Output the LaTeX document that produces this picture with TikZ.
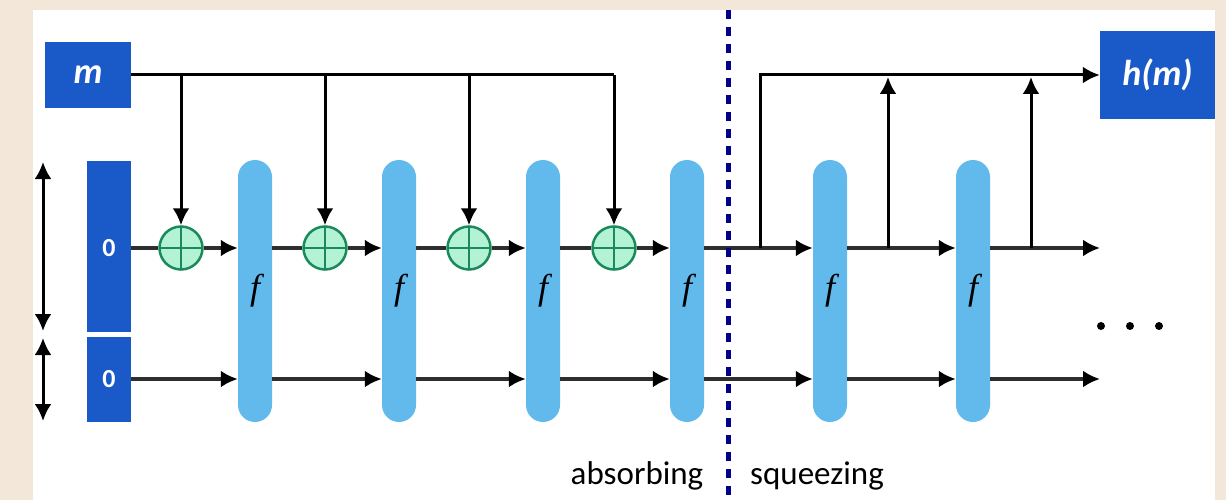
\documentclass[tikz,border=0pt]{standalone}
\usepackage{fontspec}
\setmainfont{Carlito}
\newfontfamily\ffont{Liberation Serif}
\usetikzlibrary{arrows.meta,calc}
\definecolor{bg}{HTML}{F3E7D9}
\definecolor{boxblue}{HTML}{1A5AC8}
\definecolor{pillblue}{HTML}{62B9EC}
\definecolor{xorfill}{HTML}{B4F2D6}
\definecolor{xordraw}{HTML}{1B8A5A}
\definecolor{wiregray}{HTML}{2E2E2E}
\definecolor{navy}{HTML}{000088}
\tikzset{
  blk/.style={fill=boxblue, inner sep=0pt, text=white, font=\bfseries\itshape\fontsize{36}{36}\selectfont},
  zero/.style={fill=boxblue, inner sep=0pt, text=white, font=\bfseries\fontsize{26}{26}\selectfont},
  pillf/.style={fill=pillblue, rounded corners=17pt, minimum width=34pt, minimum height=262pt, inner sep=0pt, font=\ffont\itshape\fontsize{36}{36}\selectfont},
  xorc/.style={circle, fill=xorfill, draw=xordraw, line width=2.5pt, minimum size=43pt, inner sep=0pt,
    path picture={\draw[xordraw,line width=2.5pt] (path picture bounding box.north) -- (path picture bounding box.south) (path picture bounding box.west) -- (path picture bounding box.east);}},
  wire/.style={draw=wiregray, line width=4.5pt},
  vline/.style={draw=black, line width=3pt},
  arr/.style={-{Latex[length=17pt,width=17pt,color=black]}},
  darr/.style={{Latex[length=17pt,width=17pt]}-{Latex[length=17pt,width=17pt]}},
  lbl/.style={font=\fontsize{33}{33}\selectfont, text=black, inner sep=0pt}
}
\begin{document}
\begin{tikzpicture}[x=1pt,y=-1pt]
\fill[bg] (0,0) rectangle (1226,500);
\fill[white] (33,10) rectangle (1215,500);
\useasboundingbox (0,0) rectangle (1226,500);

% boxes
\node[blk, minimum width=86pt, minimum height=66pt] (m) at (88,75) {m};
\node[blk, minimum width=115pt, minimum height=88pt] (hm) at (1157.5,75) {h(m)};
\node[zero, minimum width=44pt, minimum height=171pt] (s1) at (109,246.5) {};
\node[zero] (z1) at (109,248) {0};
\node[zero, minimum width=44pt, minimum height=85pt] (s2) at (109,379.5) {0};

% pills
\foreach \i/\x in {1/255,2/399,3/543,4/687,5/830,6/973}
  \node[pillf] (p\i) at (\x,291) {f};
% xor circles
\foreach \i/\x in {1/181,2/325,3/469,4/614}
  \node[xorc] (c\i) at (\x,248) {};

\coordinate (lo) at (0,379);
\coordinate (up) at (0,248);

% top message line
\coordinate (t4) at (c4 |- m.east);
\draw[vline] (m.east) -- (t4);
\foreach \i in {1,2,3,4}
  \draw[vline,arr] (c\i |- m.east) -- (c\i.north);

% upper wire (absorbing)
\draw[wire] (s1.east |- up) -- (c1.west);
\foreach \i/\j in {1/1,2/2,3/3,4/4}
  \draw[wire,arr] (c\i.east) -- (up -| p\j.west);
\foreach \i/\j in {1/2,2/3,3/4}
  \draw[wire] (p\i.east |- up) -- (c\j.west);
\draw[wire,arr] (p4.east |- up) -- (up -| p5.west);
\draw[wire,arr] (p5.east |- up) -- (up -| p6.west);
\coordinate (eu) at (1100,248);
\draw[wire,arr] (p6.east |- up) -- (eu);

% lower wire
\draw[wire,arr] (s2.east |- lo) -- (lo -| p1.west);
\foreach \i/\j in {1/2,2/3,3/4,4/5,5/6}
  \draw[wire,arr] (p\i.east |- lo) -- (lo -| p\j.west);
\coordinate (el) at (1100,379);
\draw[wire,arr] (p6.east |- lo) -- (el);

% squeezing outputs
\coordinate (j0) at (760,248);
\coordinate (k0) at (760,75);
\draw[vline,arr] (j0) -- (k0) -- (hm.west);
\coordinate (j1) at (888,248);
\coordinate (k1) at (888,77);
\draw[vline,arr] (j1) -- (k1);
\coordinate (j2) at (1031,248);
\coordinate (k2) at (1031,77);
\draw[vline,arr] (j2) -- (k2);

% divider
\coordinate (dt) at (728,10);
\coordinate (db) at (728,500);
\draw[navy, line width=5pt, dash pattern=on 9pt off 8pt] (dt) -- (db);

% size arrows
\coordinate (a1) at (43,162);
\coordinate (a2) at (43,331);
\coordinate (a3) at (43,338);
\coordinate (a4) at (43,421);
\draw[vline,darr] (a1) -- (a2);
\draw[vline,darr] (a3) -- (a4);

% dots
\foreach \x in {1101,1130,1159}
  \fill[black] (\x,326) circle (4pt);

% labels
\node[lbl] (ab) at (637,476) {absorbing};
\node[lbl] (sq) at (817,476) {squeezing};
\end{tikzpicture}
\end{document}
